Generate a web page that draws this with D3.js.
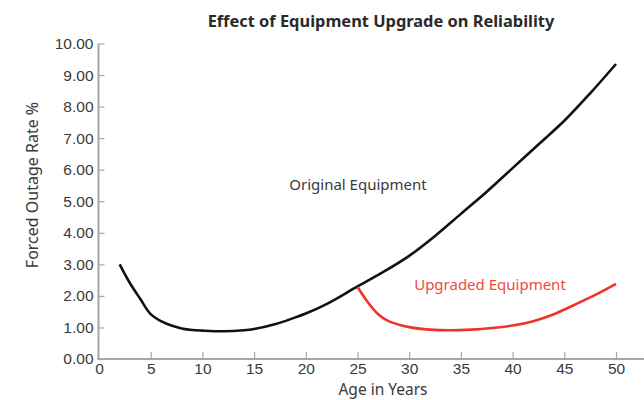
<!DOCTYPE html>
<html><head><meta charset="utf-8">
<script src="https://cdn.jsdelivr.net/npm/d3@7"></script>
<style>
html,body{margin:0;padding:0;background:#fff;}
svg{display:block;font-family:"Noto Sans",sans-serif;}
</style></head>
<body>
<svg id="c" width="644" height="400"></svg>
<script>
const title = "Effect of Equipment Upgrade on Reliability";
const xTitle = "Age in Years";
const yTitle = "Forced Outage Rate %";
const originalAge = [2,3,4,5,6,7,8,9,10,12,14,15,17,19,20,22,25,27.5,30,32.5,35,37.5,40,42.5,45,47.5,50];
const originalRate = [3.0,2.4,1.9,1.42,1.2,1.06,0.97,0.92,0.9,0.88,0.91,0.95,1.1,1.32,1.44,1.74,2.3,2.76,3.27,3.9,4.6,5.3,6.05,6.8,7.55,8.42,9.35];
const upgradedAge = [25,26,27,28,30,32,34,36,38,40,42,44,46,48,50];
const upgradedRate = [2.28,1.8,1.42,1.2,1.01,0.93,0.91,0.93,0.98,1.06,1.2,1.42,1.72,2.03,2.38];
const xTicks = [0,5,10,15,20,25,30,35,40,45,50];
const yTicks = [0,1,2,3,4,5,6,7,8,9,10];
const labelOriginal = "Original Equipment";
const labelUpgraded = "Upgraded Equipment";

const svg = d3.select("#c");
const x = d3.scaleLinear().domain([0,50]).range([99,616]);
const y = d3.scaleLinear().domain([0,10]).range([359,43.5]);
const axisColor = "#a6a6a6";
const textColor = "#3a3a3a";

// y axis
const gy = svg.append("g").attr("transform","translate(98.5,0)")
  .call(d3.axisLeft(y).tickValues(yTicks).tickFormat(d3.format(".2f")).tickSize(-6).tickPadding(5));
gy.select(".domain").attr("stroke",axisColor).attr("stroke-width",2).attr("d",`M0,${y(0)+1}V${y(10)}`);
gy.selectAll(".tick line").attr("stroke",axisColor).attr("stroke-width",1.2);
gy.selectAll(".tick text").attr("fill",textColor).style("font-size","15.5px");

// x axis
const gx = svg.append("g").attr("transform","translate(0,359)")
  .call(d3.axisBottom(x).tickValues(xTicks).tickSize(-7).tickPadding(4));
gx.select(".domain").attr("stroke",axisColor).attr("stroke-width",2).attr("d",`M97.5,0H644`);
gx.selectAll(".tick line").attr("stroke",axisColor).attr("stroke-width",1.2);
gx.selectAll(".tick text").attr("fill",textColor).style("font-size","15.5px");
gx.selectAll(".tick").filter(d=>d===0).select("line").remove();

const line = d3.line().x(d=>x(d[0])).y(d=>y(d[1])).curve(d3.curveCatmullRom.alpha(0.5));
svg.append("path").datum(originalAge.map((a,i)=>[a,originalRate[i]]))
  .attr("d",line).attr("fill","none").attr("stroke","#111").attr("stroke-width",2.6);
svg.append("path").datum(upgradedAge.map((a,i)=>[a,upgradedRate[i]]))
  .attr("d",line).attr("fill","none").attr("stroke","#ee3426").attr("stroke-width",2.6);

svg.append("text").attr("x",381).attr("y",27).attr("text-anchor","middle")
  .attr("fill","#2a2a2a").style("font-size","16.4px").style("font-weight","bold").text(title);
svg.append("text").attr("x",383).attr("y",395).attr("text-anchor","middle")
  .attr("fill",textColor).style("font-size","15.5px").text(xTitle);
svg.append("text").attr("transform","translate(38,185) rotate(-90)").attr("text-anchor","middle")
  .attr("fill",textColor).style("font-size","16px").text(yTitle);
svg.append("text").attr("x",358).attr("y",190).attr("text-anchor","middle")
  .attr("fill",textColor).style("font-size","15px").text(labelOriginal);
svg.append("text").attr("x",490).attr("y",290).attr("text-anchor","middle")
  .attr("fill","#f0483e").style("font-size","15px").text(labelUpgraded);
</script>
</body></html>
